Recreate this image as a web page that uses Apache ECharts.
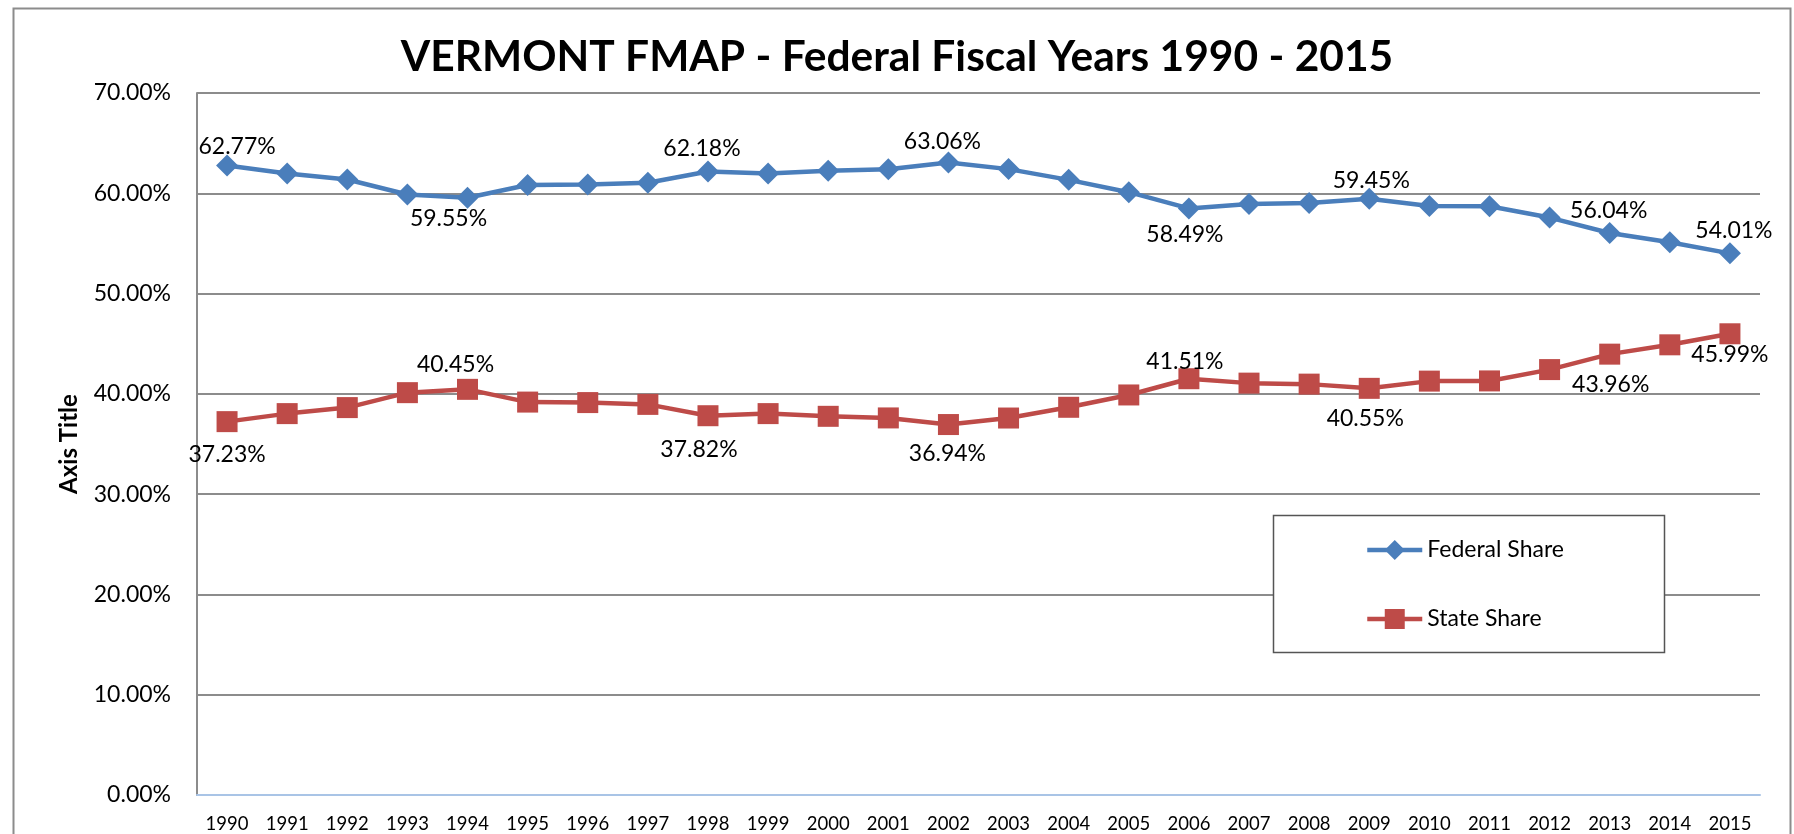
<!DOCTYPE html>
<html lang="en">
<head>
    <meta charset="UTF-8">
    <title>Vermont FMAP</title>
    <style>
        * {
            margin: 0;
            padding: 0;
        }

        .main {
            width: 1794px;
            height: 834px;
            background: #fff;
        }
    </style>
</head>
<body>
<div id="main" class="main"></div>
<script src="https://cdn.jsdelivr.net/npm/echarts@6/dist/echarts.min.js"></script>
<script>
    var years = ['1990', '1991', '1992', '1993', '1994', '1995', '1996', '1997', '1998', '1999', '2000', '2001', '2002',
        '2003', '2004', '2005', '2006', '2007', '2008', '2009', '2010', '2011', '2012', '2013', '2014', '2015'];
    var federalShare = [62.77, 61.97, 61.37, 59.88, 59.55, 60.82, 60.87, 61.05, 62.18, 61.97, 62.24, 62.40, 63.06,
        62.41, 61.34, 60.11, 58.49, 58.93, 59.03, 59.45, 58.73, 58.71, 57.58, 56.04, 55.11, 54.01];
    var stateShare = [37.23, 38.03, 38.63, 40.12, 40.45, 39.18, 39.13, 38.95, 37.82, 38.03, 37.76, 37.60, 36.94,
        37.59, 38.66, 39.89, 41.51, 41.07, 40.97, 40.55, 41.27, 41.29, 42.42, 43.96, 44.89, 45.99];
    var yTicks = [0, 10, 20, 30, 40, 50, 60, 70];

    // where the data labels sit, relative to the marker centre (index -> [dx, dy])
    var federalLabelAt = {0: [10, -19], 4: [-19, 21], 8: [-6, -23], 12: [-6, -21], 16: [-4, 26], 19: [2, -18], 23: [-1, -22], 25: [4, -23]};
    var stateLabelAt = {0: [0, 33], 4: [-12, -25], 8: [-9, 34], 12: [-1, 29], 16: [-4, -17], 19: [-4, 30], 23: [1, 30], 25: [0, 21]};

    var font = 'Lato, "Open Sans", sans-serif';

    function pct(v) {
        return v.toFixed(2) + '%';
    }

    function withLabels(values, labelAt) {
        return values.map(function (v, i) {
            if (!labelAt[i]) return v;
            return {
                value: v,
                label: {show: true, position: 'inside', offset: labelAt[i]}
            };
        });
    }

    var myChart = echarts.init(document.getElementById('main'), null, {renderer: 'canvas'});

    myChart.setOption({
        animation: false,
        backgroundColor: '#fff',
        title: {
            text: 'VERMONT FMAP - Federal Fiscal Years 1990 - 2015',
            left: 'center',
            top: 36,
            padding: 0,
            textStyle: {fontFamily: font, fontSize: 42.5, fontWeight: 'bold', color: '#000'}
        },
        graphic: [{
            type: 'rect',
            z: 0,
            silent: true,
            shape: {x: 13.5, y: 8.5, width: 1777, height: 900},
            style: {fill: 'none', stroke: '#8c8c8c', lineWidth: 2}
        }, {
            type: 'rect',
            z: 6,
            silent: true,
            shape: {x: 1273.5, y: 515.5, width: 391, height: 137},
            style: {fill: '#fff', stroke: '#555', lineWidth: 1.5}
        }],
        legend: {
            orient: 'vertical',
            left: 1365,
            top: 536,
            padding: 0,
            z: 10,
            itemWidth: 55,
            itemHeight: 25,
            itemGap: 41,
            lineStyle: {width: 4.5},
            textStyle: {fontFamily: font, fontSize: 23, color: '#000', lineHeight: 28},
            data: ['Federal Share', 'State Share']
        },
        grid: {
            left: 197,
            top: 93,
            width: 1563,
            height: 702
        },
        xAxis: {
            type: 'category',
            data: years,
            axisTick: {show: false},
            axisLine: {lineStyle: {color: '#a9c4e6', width: 2}},
            axisLabel: {
                interval: 0,
                margin: 20,
                color: '#000',
                fontFamily: font,
                fontSize: 18.5
            }
        },
        yAxis: {
            type: 'value',
            min: yTicks[0],
            max: yTicks[yTicks.length - 1],
            interval: 10,
            name: 'Axis Title',
            nameLocation: 'middle',
            nameRotate: 90,
            nameGap: 116,
            nameTextStyle: {fontFamily: font, fontSize: 24, fontWeight: 'bold', color: '#000'},
            axisLine: {show: true, lineStyle: {color: '#8c8c8c', width: 2}},
            axisTick: {show: false},
            splitLine: {lineStyle: {color: '#8c8c8c', width: 2}},
            axisLabel: {
                margin: 26,
                color: '#000',
                fontFamily: font,
                fontSize: 23,
                formatter: pct
            }
        },
        series: [{
            name: 'Federal Share',
            type: 'line',
            data: withLabels(federalShare, federalLabelAt),
            symbol: 'diamond',
            symbolSize: 22,
            color: '#4a7ebb',
            lineStyle: {width: 4.5},
            label: {
                show: false,
                color: '#000',
                fontFamily: font,
                fontSize: 23,
                formatter: function (p) { return pct(p.value); }
            }
        }, {
            name: 'State Share',
            type: 'line',
            data: withLabels(stateShare, stateLabelAt),
            symbol: 'rect',
            symbolSize: 21,
            color: '#be4b48',
            lineStyle: {width: 4.5},
            label: {
                show: false,
                color: '#000',
                fontFamily: font,
                fontSize: 23,
                formatter: function (p) { return pct(p.value); }
            }
        }]
    });
</script>
</body>
</html>
